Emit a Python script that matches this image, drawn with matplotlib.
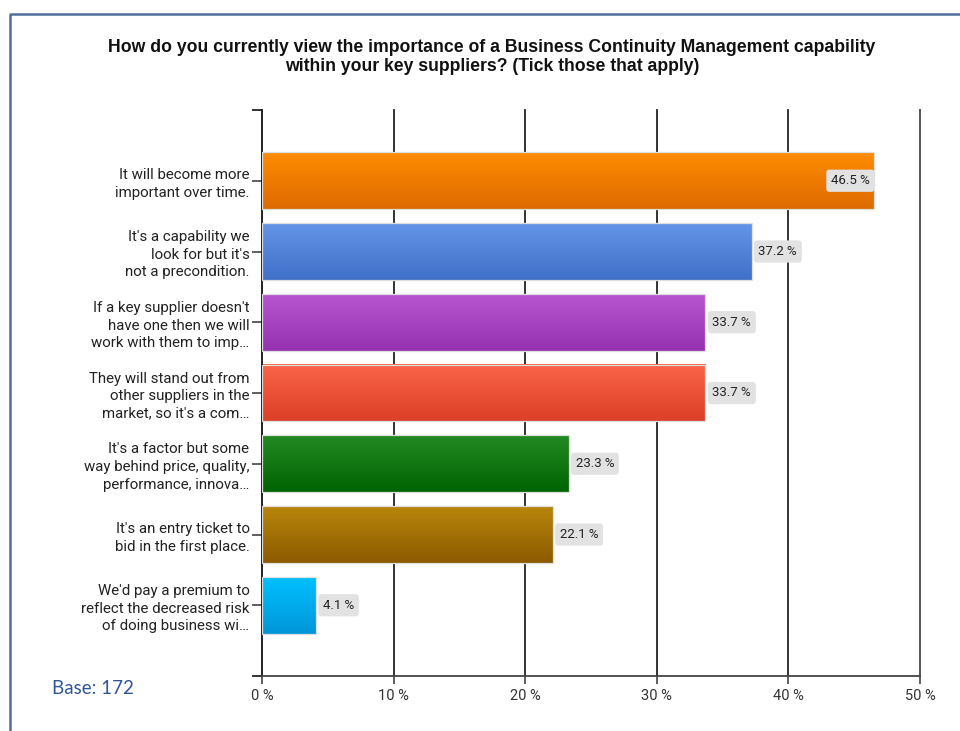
import numpy as np
import matplotlib.pyplot as plt
from matplotlib.colors import LinearSegmentedColormap
from matplotlib.lines import Line2D

title = ("How do you currently view the importance of a Business Continuity Management capability\n"
         "within your key suppliers? (Tick those that apply)")

categories = [
    "It will become more\nimportant over time.",
    "It's a capability we\nlook for but it's\nnot a precondition.",
    "If a key supplier doesn't\nhave one then we will\nwork with them to imp\u2026",
    "They will stand out from\nother suppliers in the\nmarket, so it's a com\u2026",
    "It's a factor but some\nway behind price, quality,\nperformance, innova\u2026",
    "It's an entry ticket to\nbid in the first place.",
    "We'd pay a premium to\nreflect the decreased risk\nof doing business wi\u2026",
]
values = [46.5, 37.2, 33.7, 33.7, 23.3, 22.1, 4.1]

# top / bottom colour of each bar's vertical gradient
top_colors = ["#ff8c00", "#6495e8", "#b855d0", "#fa6448", "#238a23", "#b8860b", "#00c0ff"]
bottom_colors = ["#dd6a00", "#4070c8", "#9432b0", "#dc4028", "#006400", "#8c5a00", "#0096d8"]

xticks = [0, 10, 20, 30, 40, 50]
base_text = "Base: 172"

narrow = ["Liberation Sans Narrow", "Roboto", "DejaVu Sans"]

fig = plt.figure(figsize=(9.6, 7.31), dpi=100)
ax = fig.add_axes([262 / 960, 55 / 731, 658 / 960, 566 / 731])

ypos = np.arange(len(values))
bars = ax.barh(ypos, values, height=0.8, facecolor="none",
               edgecolor="#dedede", linewidth=0.9, zorder=3)

grad = np.linspace(0, 1, 128).reshape(-1, 1)
for rect, c0, c1 in zip(bars, top_colors, bottom_colors):
    x0, y0 = rect.get_x(), rect.get_y()
    w, h = rect.get_width(), rect.get_height()
    cmap = LinearSegmentedColormap.from_list("bar", [c0, c1])
    ax.imshow(grad, cmap=cmap, extent=[x0, x0 + w, y0, y0 + h],
              origin="lower", aspect="auto", zorder=2, interpolation="bilinear")

ax.set_xlim(0, 50)
ax.set_ylim(len(values), -1)

# value labels in grey boxes
for i, v in enumerate(values):
    inside = v > 45
    ax.annotate(f"{v} %", xy=(v, i), xytext=(-3 if inside else 5, 0),
                textcoords="offset points", ha="right" if inside else "left",
                va="center", fontsize=9.5, family=narrow, color="#222222", zorder=5,
                bbox=dict(boxstyle="round,pad=0.35,rounding_size=0.25",
                          facecolor="#e2e2e2", edgecolor="none"))

# vertical grid lines (the last one sits on the right edge, so no clipping)
for x in xticks[1:]:
    ax.axvline(x, color="#555555" if x == 50 else "#222222",
               lw=1.4 if x == 50 else 1.3, zorder=1, clip_on=False)

for s in ["top", "right"]:
    ax.spines[s].set_visible(False)
ax.spines["left"].set_color("#111111")
ax.spines["left"].set_linewidth(1.3)
ax.spines["bottom"].set_color("#444444")
ax.spines["bottom"].set_linewidth(1.3)

ax.set_xticks(xticks)
ax.set_xticklabels([f"{x} %" for x in xticks], family=narrow, fontsize=10.5, color="#333333")
ax.tick_params(axis="x", length=6, width=1.2, color="#444444", pad=3)

ax.set_yticks(ypos)
ax.set_yticklabels(categories, family=["Roboto", "DejaVu Sans"], fontsize=10.8,
                   color="#222222", linespacing=1.32)
ax.tick_params(axis="y", length=7, width=1.2, color="#444444", pad=2)
ax.set_yticks([-1, len(values)], minor=True)
ax.tick_params(axis="y", which="minor", length=7, width=1.3, color="#222222")

fig.text(492 / 960, 1 - 57 / 731, title, ha="center", va="center",
         fontsize=12.7, fontweight="bold", family=["Liberation Sans", "DejaVu Sans"],
         color="#111111", linespacing=1.2)

fig.text(52 / 960, 1 - 689 / 731, base_text, ha="left", va="center",
         fontsize=13.5, family=["Lato", "DejaVu Sans"], color="#2f5597")

# outer frame, open at right and bottom
frame_x = 9.5 / 960
frame_y = 1 - 13.5 / 731
fig.add_artist(Line2D([frame_x, frame_x, 1.0], [0.0, frame_y, frame_y],
                      transform=fig.transFigure, color="#4f6e9c", lw=1.8))

fig.savefig("out.png", dpi=100)
